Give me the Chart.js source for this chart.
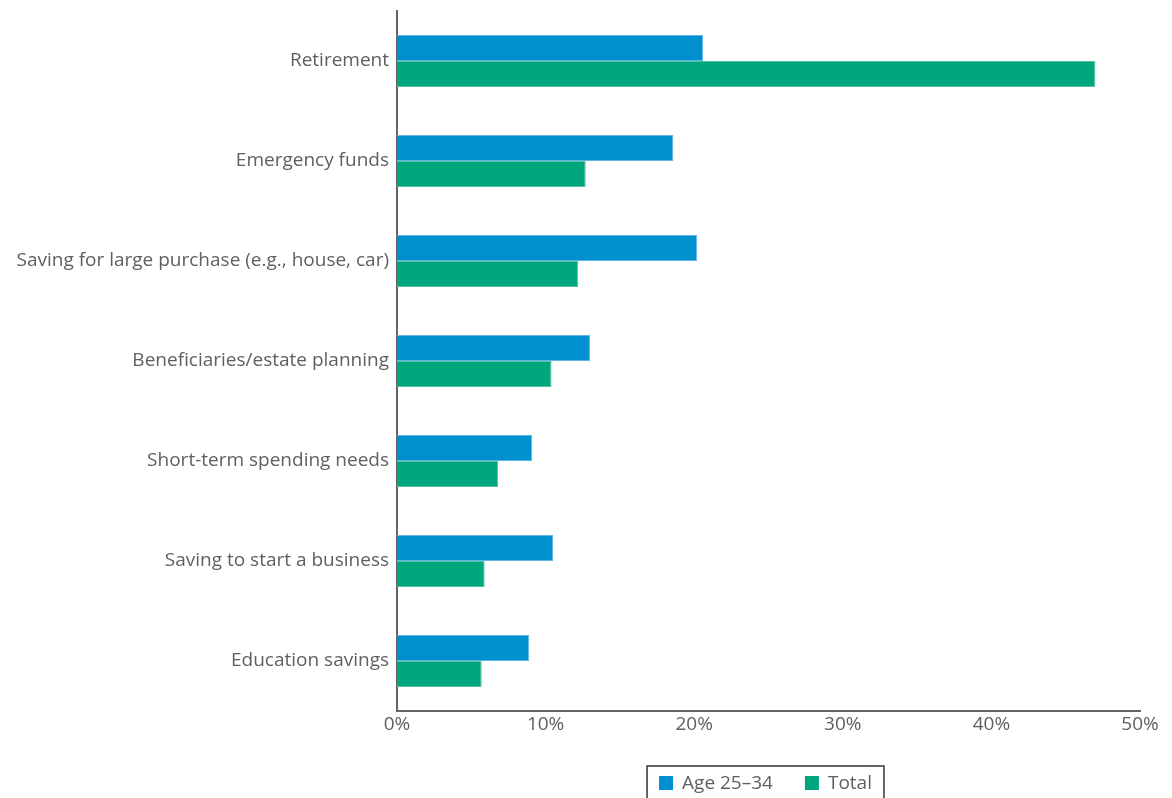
<!DOCTYPE html>
<html>
<head>
<meta charset="utf-8">
<script src="https://cdn.jsdelivr.net/npm/chart.js@4.4.1/dist/chart.umd.min.js"></script>
<style>
  html, body { margin: 0; padding: 0; background: #fff; }
  #wrap { width: 1172px; height: 798px; position: relative; }
</style>
</head>
<body>
<div id="wrap"><canvas id="goalsChart"></canvas></div>
<script>
// ====== DATA ======
const categories = [
  "Retirement",
  "Emergency funds",
  "Saving for large purchase (e.g., house, car)",
  "Beneficiaries/estate planning",
  "Short-term spending needs",
  "Saving to start a business",
  "Education savings"
];
const age2534 = [20.6, 18.6, 20.2, 13.0, 9.1, 10.5, 8.9];
const total = [47.0, 12.7, 12.2, 10.4, 6.8, 5.9, 5.7];
const seriesNames = ["Age 25\u201334", "Total"];
const xTicks = [0, 10, 20, 30, 40, 50];

const BLUE = "#0090d0";
const GREEN = "#00a67e";
const TEXT = "#5f5f5f";
const FONT = "'Open Sans', Roboto, sans-serif";
const FSIZE = 19;

// ====== LEGEND WITH BOX ======
const boxedLegend = {
  id: "boxedLegend",
  afterDraw(chart) {
    const c = chart.ctx;
    const area = chart.chartArea;
    const cy = 783;
    const sq = 14, gapText = 9, gapItem = 32;
    c.save();
    c.font = FSIZE + "px " + FONT;
    c.textBaseline = "middle";
    const items = chart.data.datasets.map(ds => ({
      text: ds.label,
      color: ds.backgroundColor,
      w: sq + gapText + c.measureText(ds.label).width
    }));
    const totalW = items.reduce((s, it) => s + it.w, 0) + gapItem * (items.length - 1);
    let x = (area.left + area.right) / 2 - 3 - totalW / 2;
    const left = x - 12;
    const right = x + totalW + 12;

    c.strokeStyle = "#333";
    c.lineWidth = 1.5;
    c.strokeRect(left, 766, right - left, chart.height);

    items.forEach(it => {
      c.fillStyle = it.color;
      c.fillRect(x, cy - sq / 2, sq, sq);
      c.fillStyle = TEXT;
      c.fillText(it.text, x + sq + gapText, cy + 1);
      x += it.w + gapItem;
    });
    c.restore();
  }
};

// ====== INIT CHART ======
const ctx = document.getElementById("goalsChart").getContext("2d");

new Chart(ctx, {
  type: "bar",
  data: {
    labels: categories,
    datasets: [
      {
        label: seriesNames[0],
        data: age2534,
        backgroundColor: BLUE,
        borderColor: "#5fb8e4",
        borderWidth: 1,
        borderSkipped: "start"
      },
      {
        label: seriesNames[1],
        data: total,
        backgroundColor: GREEN,
        borderColor: "#55c2a4",
        borderWidth: 1,
        borderSkipped: "start"
      }
    ]
  },
  options: {
    indexAxis: "y",
    responsive: true,
    maintainAspectRatio: false,
    animation: false,
    layout: { padding: { top: 11, right: 32, left: 0, bottom: 0 } },
    datasets: {
      bar: { categoryPercentage: 0.52, barPercentage: 1.0 }
    },
    plugins: {
      legend: { display: false },
      tooltip: { enabled: false }
    },
    scales: {
      x: {
        min: 0,
        max: 50,
        afterFit: (scale) => { scale.height = 87; },
        afterBuildTicks: (scale) => { scale.ticks = xTicks.map(v => ({ value: v })); },
        grid: { display: false, drawTicks: false },
        border: { display: true, color: "#666", width: 2 },
        ticks: {
          color: TEXT,
          font: { family: FONT, size: FSIZE },
          padding: 2,
          maxRotation: 0,
          callback: (v) => v + "%"
        }
      },
      y: {
        afterFit: (scale) => {
          scale.width = 397;
          scale.paddingTop = 0;
          scale.paddingBottom = 0;
        },
        grid: { display: false, drawTicks: false },
        border: { display: true, color: "#666", width: 2 },
        ticks: {
          color: TEXT,
          font: { family: FONT, size: FSIZE },
          padding: 8
        }
      }
    }
  },
  plugins: [boxedLegend]
});
</script>
</body>
</html>
